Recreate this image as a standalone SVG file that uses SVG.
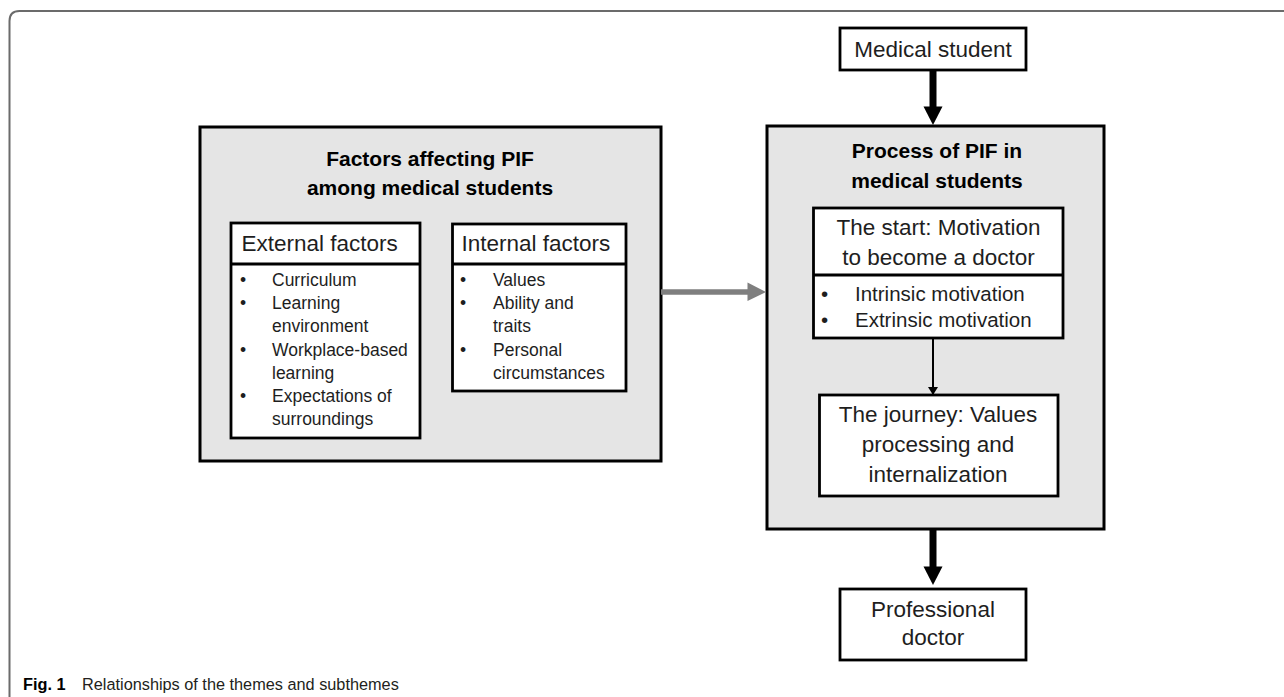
<svg xmlns="http://www.w3.org/2000/svg" width="1284" height="697" viewBox="0 0 1284 697">
<style>
text { font-family: "Liberation Sans", Arial, sans-serif; fill: #1e1e1e; }
.hdr { font-size: 22.5px; }
.ttl { font-size: 21px; font-weight: bold; fill: #000; }
.sm { font-size: 17.5px; }
.md { font-size: 20.5px; }
.mid { text-anchor: middle; }
.gbox { fill: #e5e5e5; stroke: #000; stroke-width: 3; }
.wbox { fill: #fff; stroke: #000; stroke-width: 2.8; }
.cap { font-size: 16.3px; fill: #231f20; }
</style>
<defs>
<marker id="thinHead" markerWidth="8" markerHeight="10" refX="8" refY="5" orient="auto" markerUnits="userSpaceOnUse">
<path d="M0,0 L8,5 L0,10 Z" fill="#000"/>
</marker>
</defs>

<path id="frame" d="M9.5,697 V21 Q9.5,11 19.5,11 H1284" fill="none" stroke="#6b6b6b" stroke-width="2"/>

<g id="medical-student">
<rect class="wbox" x="840" y="28" width="186" height="42"/>
<text class="hdr mid" x="933" y="57">Medical student</text>
</g>

<g id="factors">
<rect class="gbox" x="200" y="127" width="461" height="334"/>
<text class="ttl mid" x="430" y="166">Factors affecting PIF</text>
<text class="ttl mid" x="430" y="195">among medical students</text>
</g>

<g id="external-factors">
<rect class="wbox" x="231" y="223" width="189" height="215"/>
<line x1="231" y1="264" x2="420" y2="264" stroke="#000" stroke-width="2.8"/>
<text class="hdr" x="241.5" y="251">External factors</text>
<g class="sm">
<text x="240" y="286">•</text><text x="272" y="286">Curriculum</text>
<text x="240" y="309">•</text><text x="272" y="309">Learning</text>
<text x="272" y="332">environment</text>
<text x="240" y="356">•</text><text x="272" y="356">Workplace-based</text>
<text x="272" y="379">learning</text>
<text x="240" y="402">•</text><text x="272" y="402">Expectations of</text>
<text x="272" y="425">surroundings</text>
</g>
</g>

<g id="internal-factors">
<rect class="wbox" x="452.5" y="224" width="173.5" height="167"/>
<line x1="452.5" y1="264" x2="626" y2="264" stroke="#000" stroke-width="2.8"/>
<text class="hdr" x="461.5" y="251">Internal factors</text>
<g class="sm">
<text x="460" y="286">•</text><text x="493" y="286">Values</text>
<text x="460" y="309">•</text><text x="493" y="309">Ability and</text>
<text x="493" y="332">traits</text>
<text x="460" y="356">•</text><text x="493" y="356">Personal</text>
<text x="493" y="379">circumstances</text>
</g>
</g>

<g id="process">
<rect class="gbox" x="767" y="126" width="337" height="403"/>
<text class="ttl mid" x="937" y="158">Process of PIF in</text>
<text class="ttl mid" x="937" y="187.5">medical students</text>
</g>

<g id="the-start">
<rect class="wbox" x="813.5" y="208" width="249.5" height="130"/>
<line x1="813.5" y1="275" x2="1063" y2="275" stroke="#000" stroke-width="2.8"/>
<text class="hdr mid" x="938.5" y="235">The start: Motivation</text>
<text class="hdr mid" x="938.5" y="265">to become a doctor</text>
<g class="md">
<text x="821" y="301">•</text><text x="855" y="301">Intrinsic motivation</text>
<text x="821" y="327">•</text><text x="855" y="327">Extrinsic motivation</text>
</g>
</g>

<g id="the-journey">
<rect class="wbox" x="819.5" y="395" width="238.5" height="101"/>
<text class="hdr mid" x="938" y="422">The journey: Values</text>
<text class="hdr mid" x="938" y="452">processing and</text>
<text class="hdr mid" x="938" y="482">internalization</text>
</g>

<g id="professional-doctor">
<rect class="wbox" x="840" y="589" width="186" height="71"/>
<text class="hdr mid" x="933" y="617">Professional</text>
<text class="hdr mid" x="933" y="645">doctor</text>
</g>

<g id="connectors">
<line x1="933" y1="70" x2="933" y2="108" stroke="#000" stroke-width="7"/>
<polygon points="923.5,106.5 942.5,106.5 933,125" fill="#000"/>
<line x1="661" y1="292" x2="749" y2="292" stroke="#7f7f7f" stroke-width="5.5"/>
<polygon points="747.5,282.5 766,292 747.5,301" fill="#7f7f7f"/>
<line x1="933" y1="338" x2="933" y2="395" stroke="#000" stroke-width="2" marker-end="url(#thinHead)"/>
<line x1="933" y1="529" x2="933" y2="568" stroke="#000" stroke-width="7"/>
<polygon points="923.5,566.5 942.5,566.5 933,585" fill="#000"/>
</g>

<text class="cap" x="23" y="690"><tspan font-weight="bold" fill="#000">Fig. 1</tspan><tspan x="82">Relationships of the themes and subthemes</tspan></text>
</svg>
